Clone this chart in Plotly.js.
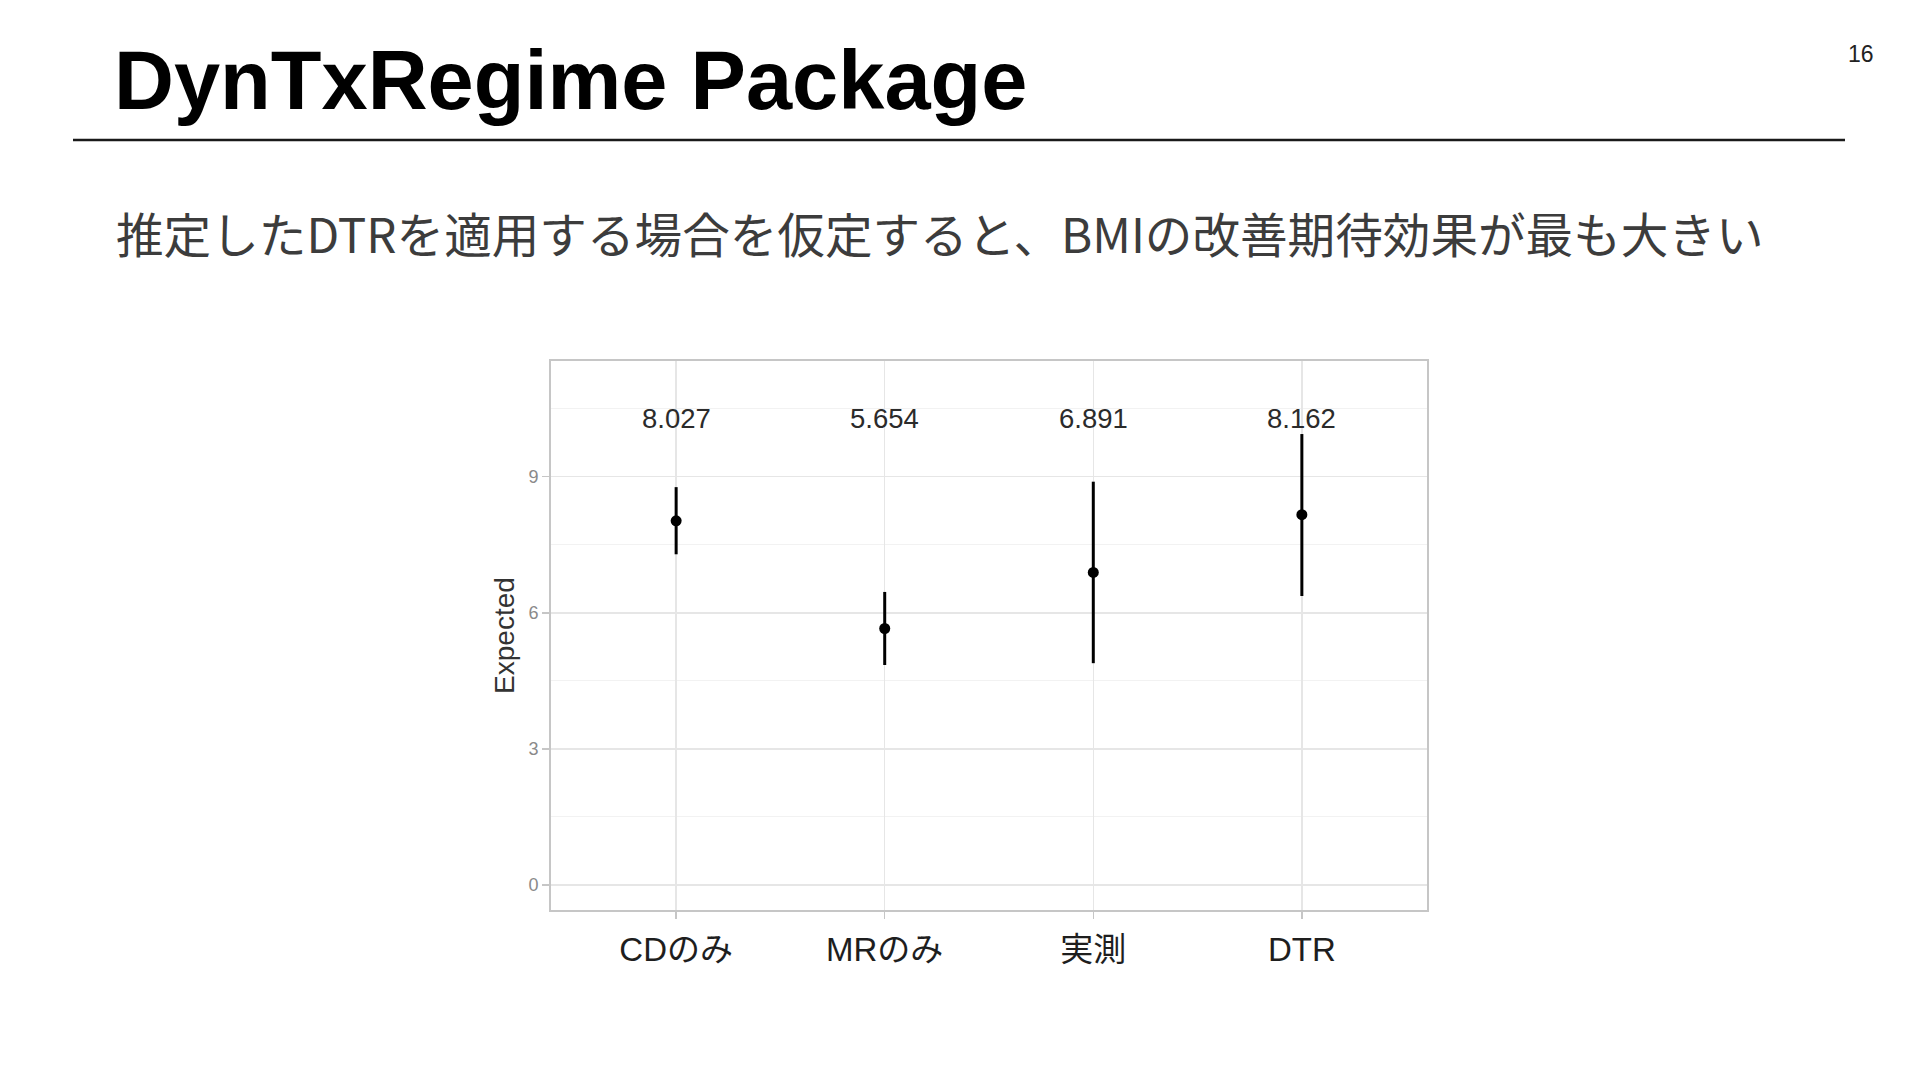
<!DOCTYPE html>
<html>
<head>
<meta charset="utf-8">
<script src="https://cdn.plot.ly/plotly-3.0.1.min.js"></script>
<style>
html,body{margin:0;padding:0;background:#fff;}
#chart{width:1920px;height:1080px;}
</style>
</head>
<body>
<div id="chart"></div>
<script>
// ---- data ----
const categories = ["CDのみ", "MRのみ", "実測", "DTR"];
const expected = [8.027, 5.654, 6.891, 8.162];
const upper = [8.77, 6.46, 8.89, 9.94];
const lower = [7.29, 4.85, 4.89, 6.37];
const valueLabels = ["8.027", "5.654", "6.891", "8.162"];
const yTickVals = [0, 3, 6, 9];
const slideTitle = "DynTxRegime Package";
const slideSubtitle = "推定したDTRを適用する場合を仮定すると、BMIの改善期待効果が最も大きい";
const pageNumber = "16";

// ---- plot geometry (pixels) ----
const W = 1920, H = 1080;
const L = 551, R = 1427, T = 361, B = 910;
const pw = R - L, ph = B - T;
const px = x => (x - L) / pw;
const py = y => (B - y) / ph;

const xPos = categories.map((c, i) => i + 1);
const errPlus = expected.map((v, i) => upper[i] - v);
const errMinus = expected.map((v, i) => v - lower[i]);

const trace = {
  type: "scatter",
  mode: "markers",
  x: xPos,
  y: expected,
  marker: {color: "#000", size: 11},
  error_y: {
    type: "data",
    symmetric: false,
    array: errPlus,
    arrayminus: errMinus,
    color: "#000",
    thickness: 3,
    width: 0
  },
  hoverinfo: "skip",
  showlegend: false
};

const annotations = [];
categories.forEach((c, i) => {
  annotations.push({
    x: xPos[i], y: 10.29, xref: "x", yref: "y",
    text: valueLabels[i], showarrow: false,
    xanchor: "center", yanchor: "middle",
    font: {family: "Liberation Sans, Arial, sans-serif", size: 27.5, color: "#2b2b2b"}
  });
});
annotations.push({
  x: px(112), y: py(80), xref: "paper", yref: "paper",
  text: "<b>" + slideTitle + "</b>", showarrow: false,
  xanchor: "left", yanchor: "middle",
  font: {family: "Liberation Sans, Arial, sans-serif", size: 83, color: "#000"}
});
annotations.push({
  x: px(114), y: py(233), xref: "paper", yref: "paper",
  text: slideSubtitle, showarrow: false,
  xanchor: "left", yanchor: "middle",
  font: {family: "Noto Sans CJK JP, sans-serif", size: 47.6, color: "#3c3c3c"}
});
annotations.push({
  x: px(1861), y: py(54), xref: "paper", yref: "paper",
  text: pageNumber, showarrow: false,
  xanchor: "center", yanchor: "middle",
  font: {family: "Liberation Sans, Arial, sans-serif", size: 23, color: "#222"}
});

const layout = {
  width: W, height: H,
  paper_bgcolor: "#fff",
  plot_bgcolor: "#fff",
  margin: {l: L, r: W - R, t: T, b: H - B, pad: 0},
  showlegend: false,
  xaxis: {
    range: [0.4, 4.6],
    tickvals: xPos,
    ticktext: categories,
    showgrid: true, gridcolor: "#e6e6e6", gridwidth: 1.5,
    zeroline: false,
    showline: true, mirror: true, linecolor: "#c6c6c6", linewidth: 2,
    ticks: "outside", ticklen: 7, tickwidth: 1.5, tickcolor: "#c6c6c6",
    ticklabelstandoff: 2,
    tickfont: {family: "Liberation Sans, Noto Sans CJK JP, sans-serif", size: 33, color: "#1e1e1e"},
    fixedrange: true
  },
  yaxis: {
    range: [-0.55, 11.55],
    tickvals: yTickVals,
    ticktext: yTickVals.map(String),
    showgrid: true, gridcolor: "#e6e6e6", gridwidth: 1.5,
    minor: {tick0: 0, dtick: 1.5, showgrid: true, gridcolor: "#f2f2f2", gridwidth: 1, ticks: ""},
    zeroline: false,
    showline: true, mirror: true, linecolor: "#c6c6c6", linewidth: 2,
    ticks: "outside", ticklen: 7, tickwidth: 1.5, tickcolor: "#c6c6c6",
    tickfont: {family: "Liberation Sans, Arial, sans-serif", size: 18, color: "#8a8a8a"},
    title: {text: "Expected", standoff: 6,
      font: {family: "Liberation Sans, Arial, sans-serif", size: 28, color: "#333"}},
    fixedrange: true
  },
  shapes: [{
    type: "line", xref: "paper", yref: "paper",
    x0: px(73), x1: px(1845), y0: py(140), y1: py(140),
    line: {color: "#1a1a1a", width: 2.5}
  }],
  annotations: annotations
};

Plotly.newPlot("chart", [trace], layout, {displayModeBar: false, staticPlot: true});
</script>
</body>
</html>
